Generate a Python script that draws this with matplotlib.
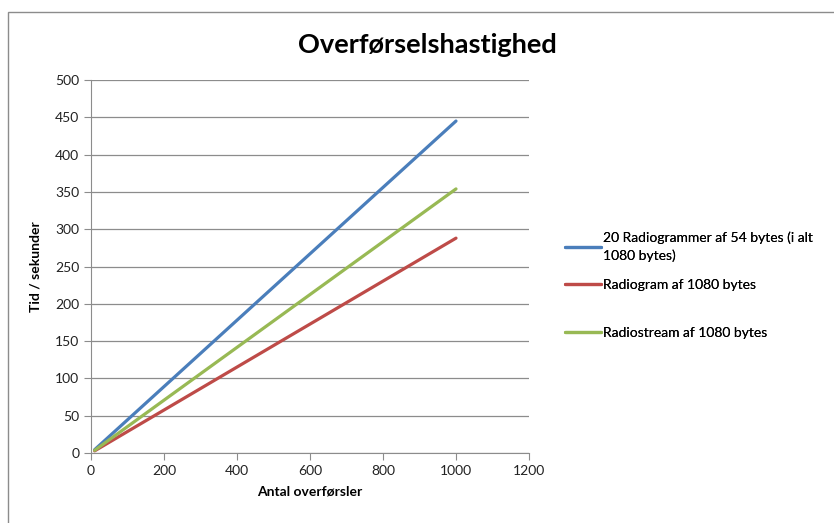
import matplotlib
matplotlib.use("Agg")
import matplotlib.pyplot as plt
from matplotlib.patches import Rectangle

# data
antal = [10, 1000]
multi_54 = [4.45, 445]
single_1080 = [2.88, 288]
stream_1080 = [3.54, 354]
labels = ["20 Radiogrammer af 54 bytes (i alt\n1080 bytes)",
          "Radiogram af 1080 bytes",
          "Radiostream af 1080 bytes"]

plt.rcParams['font.family'] = ['Lato', 'DejaVu Sans']

fig = plt.figure(figsize=(8.34, 5.23), dpi=100)
ax = fig.add_axes([91/834, 1-453/523, (529-91)/834, (453-80)/523])

l1, = ax.plot(antal, multi_54, color="#4A7EBB", lw=2.3, solid_capstyle="round")
l2, = ax.plot(antal, single_1080, color="#BE4B48", lw=2.3, solid_capstyle="round")
l3, = ax.plot(antal, stream_1080, color="#98B954", lw=2.3, solid_capstyle="round")

ax.set_xlim(0, 1200)
ax.set_ylim(0, 500)
ax.set_xticks(range(0, 1201, 200))
ax.set_yticks(range(0, 501, 50))
ax.grid(axis="y", color="#8c8c8c", lw=0.9)
ax.set_axisbelow(True)
for s in ["top", "right"]:
    ax.spines[s].set_visible(False)
for s in ["left", "bottom"]:
    ax.spines[s].set_color("#8c8c8c")
ax.tick_params(colors="#8c8c8c", labelcolor="#222222", labelsize=10, length=5)

ax.set_xlabel("Antal overførsler", fontsize=10, fontweight="bold", labelpad=6)
ax.set_ylabel("Tid / sekunder", fontsize=10, fontweight="bold", labelpad=10)
fig.text(0.513, 1-45/523, "Overførselshastighed", ha="center", va="center",
         fontsize=19.5, fontweight="bold")

# one legend per entry, placed like the Excel legend
for line, lab, ymid in zip([l1, l2, l3], labels, [247, 285, 333]):
    leg = fig.legend([line], [lab], loc="center left",
                     bbox_to_anchor=(565/834, 1-ymid/523), frameon=False,
                     fontsize=10, handlelength=2.6, handletextpad=0.15,
                     borderpad=0, borderaxespad=0)
    for t in leg.get_texts():
        t.set_linespacing(1.55)
    fig.add_artist(leg)

# chart border
fig.patches.append(Rectangle((8/834, -0.1), 1.2, 1-12/523+0.1,
                             transform=fig.transFigure, fill=False,
                             edgecolor="#8c8c8c", lw=1))

fig.savefig("out.png", dpi=100)
